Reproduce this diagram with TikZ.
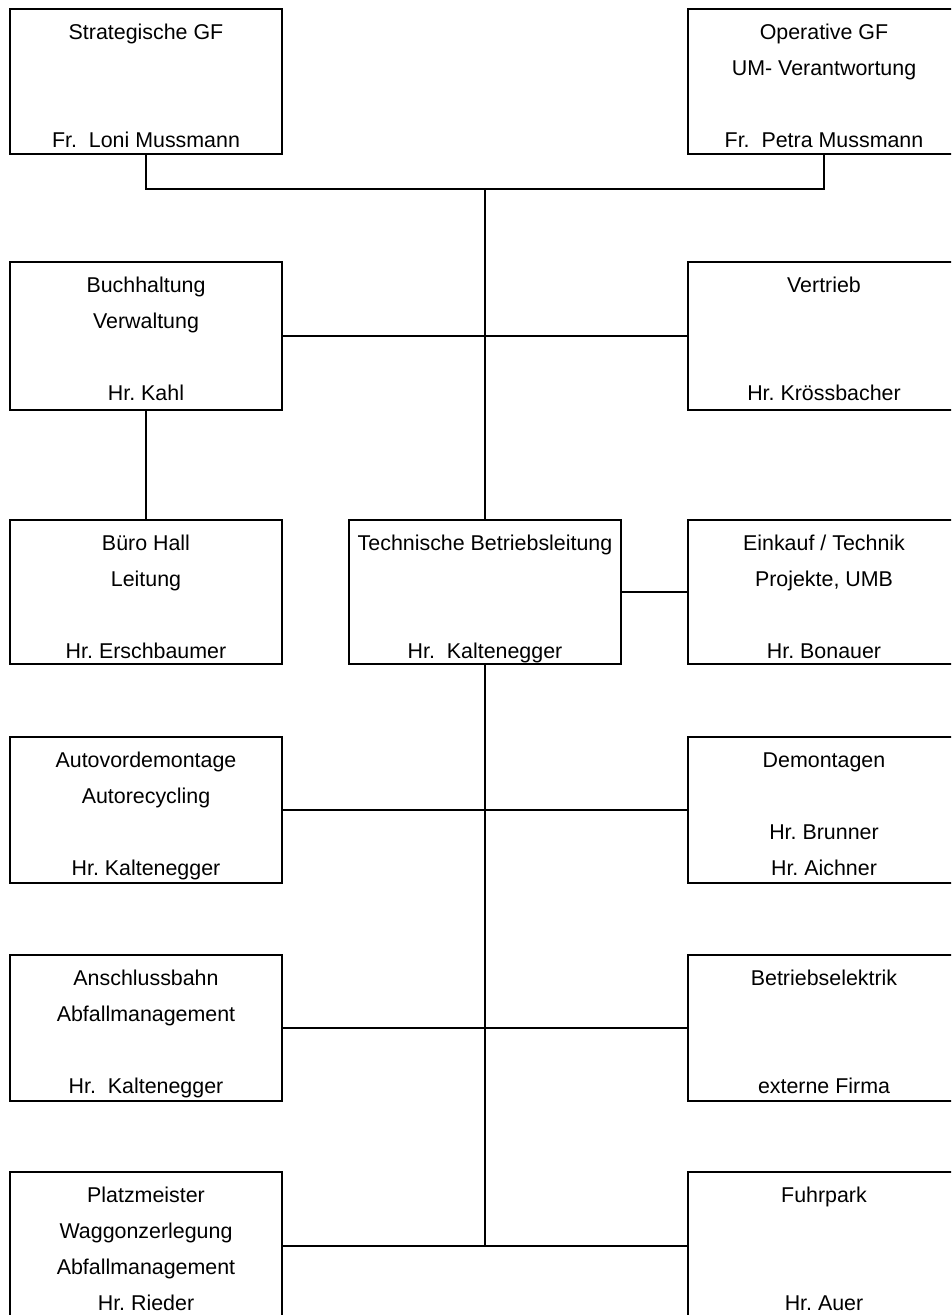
\documentclass[tikz,border=0pt]{standalone}
\usepackage{fontspec}
\setmainfont{Liberation Sans}
\frenchspacing
\tikzset{
  obox/.style={draw, rectangle, line width=1.4pt, minimum width=272pt, inner sep=0pt},
  otext/.style={anchor=base, inner sep=0pt, font=\fontsize{21.4}{25}\selectfont},
  conn/.style={line width=1.4pt},
}
\newcommand\tline[3]{\node[otext] (#1-#2) at ([yshift={-31.5pt-36pt*(#2-1)}]#1.north) {#3};}
\begin{document}
\begin{tikzpicture}[x=1pt,y=-1pt]
\useasboundingbox (0,0) rectangle (951,1315);
\clip (0,0) rectangle (951,1315);
% boxes
\node[obox, minimum height=145pt] (sgf) at (146,81.5) {};
\node[obox, minimum height=145pt] (ogf) at (824,81.5) {};
\node[obox, minimum height=148pt] (buch) at (146,336) {};
\node[obox, minimum height=148pt] (vert) at (824,336) {};
\node[obox, minimum height=144pt] (buero) at (146,592) {};
\node[obox, minimum height=144pt] (tech) at (485,592) {};
\node[obox, minimum height=144pt] (eink) at (824,592) {};
\node[obox, minimum height=146pt] (auto) at (146,810) {};
\node[obox, minimum height=146pt] (demo) at (824,810) {};
\node[obox, minimum height=146pt] (ansch) at (146,1028) {};
\node[obox, minimum height=146pt] (elek) at (824,1028) {};
\node[obox, minimum height=148pt] (platz) at (146,1246) {};
\node[obox, minimum height=148pt] (fuhr) at (824,1246) {};
% texts
\tline{sgf}{1}{Strategische GF}
\tline{sgf}{4}{Fr.\ \ Loni Mussmann}
\tline{ogf}{1}{Operative GF}
\tline{ogf}{2}{UM- Verantwortung}
\tline{ogf}{4}{Fr.\ \ Petra Mussmann}
\tline{buch}{1}{Buchhaltung}
\tline{buch}{2}{Verwaltung}
\tline{buch}{4}{Hr. Kahl}
\tline{vert}{1}{Vertrieb}
\tline{vert}{4}{Hr. Krössbacher}
\tline{buero}{1}{Büro Hall}
\tline{buero}{2}{Leitung}
\tline{buero}{4}{Hr. Erschbaumer}
\tline{tech}{1}{Technische Betriebsleitung}
\tline{tech}{4}{Hr.\ \ Kaltenegger}
\tline{eink}{1}{Einkauf / Technik}
\tline{eink}{2}{Projekte, UMB}
\tline{eink}{4}{Hr. Bonauer}
\tline{auto}{1}{Autovordemontage}
\tline{auto}{2}{Autorecycling}
\tline{auto}{4}{Hr. Kaltenegger}
\tline{demo}{1}{Demontagen}
\tline{demo}{3}{Hr. Brunner}
\tline{demo}{4}{Hr. Aichner}
\tline{ansch}{1}{Anschlussbahn}
\tline{ansch}{2}{Abfallmanagement}
\tline{ansch}{4}{Hr.\ \ Kaltenegger}
\tline{elek}{1}{Betriebselektrik}
\tline{elek}{4}{externe Firma}
\tline{platz}{1}{Platzmeister}
\tline{platz}{2}{Waggonzerlegung}
\tline{platz}{3}{Abfallmanagement}
\tline{platz}{4}{Hr. Rieder}
\tline{fuhr}{1}{Fuhrpark}
\tline{fuhr}{4}{Hr. Auer}
% connectors
\coordinate (jtop) at (485,189);
\coordinate (jbot) at (485,1246);
\draw[conn] (sgf.south) |- (jtop) -| (ogf.south);
\draw[conn] (jtop) -- (tech.north);
\draw[conn] (buch.east) -- (vert.west);
\draw[conn] (buch.south) -- (buero.north);
\draw[conn] (tech.east) -- (eink.west);
\draw[conn] (tech.south) -- (jbot);
\draw[conn] (auto.east) -- (demo.west);
\draw[conn] (ansch.east) -- (elek.west);
\draw[conn] (platz.east) -- (fuhr.west);
\end{tikzpicture}
\end{document}
